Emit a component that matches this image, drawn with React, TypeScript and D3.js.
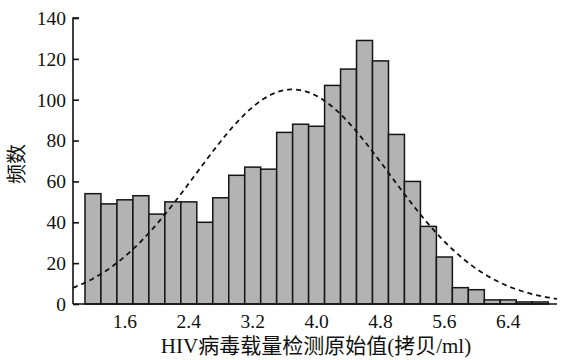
import React, { useEffect, useRef } from "react";
import * as d3 from "d3";

// histogram counts, bins of 0.2 starting at 1.1
const binStart = 1.1;
const binWidth = 0.2;
const counts = [
  54, 49, 51, 53, 44, 50, 50, 40, 52, 63, 67, 66, 84, 88, 87, 107, 115, 129, 119,
  83, 60, 38, 23, 8, 7, 2, 2, 1, 1,
];
const xTicks = [1.6, 2.4, 3.2, 4.0, 4.8, 5.6, 6.4];
const yTicks = [0, 20, 40, 60, 80, 100, 120, 140];
// fitted normal curve
const curveMean = 3.7;
const curveSd = 1.21;

const W = 561;
const H = 360;
const FONT = "'Liberation Serif', 'Times New Roman', 'Noto Sans CJK SC', serif";

export default function App() {
  const svgRef = useRef<SVGSVGElement>(null);

  useEffect(() => {
    const svg = d3.select(svgRef.current);
    svg.selectAll("*").remove();

    const x = d3.scaleLinear().domain([0.95, 7.01]).range([73, 557]);
    const y = d3.scaleLinear().domain([0, 140]).range([304, 18]);

    const bins = counts.map((c, i) => ({
      x0: binStart + i * binWidth,
      x1: binStart + (i + 1) * binWidth,
      c,
    }));

    // bars
    svg
      .append("g")
      .selectAll("rect")
      .data(bins)
      .join("rect")
      .attr("x", (d) => x(d.x0))
      .attr("width", (d) => x(d.x1) - x(d.x0))
      .attr("y", (d) => y(d.c))
      .attr("height", (d) => y(0) - y(d.c))
      .attr("fill", "#b3b3b3")
      .attr("stroke", "#151515")
      .attr("stroke-width", 1.5);

    // normal curve
    const total = d3.sum(counts);
    const dens = (v: number) =>
      ((total * binWidth) / (curveSd * Math.sqrt(2 * Math.PI))) *
      Math.exp(-((v - curveMean) ** 2) / (2 * curveSd * curveSd));
    const [d0, d1] = x.domain();
    const pts = d3.range(0, 201).map((i) => d0 + ((d1 - d0) * i) / 200);
    const line = d3
      .line<number>()
      .x((v) => x(v))
      .y((v) => y(dens(v)))
      .curve(d3.curveBasis);
    svg
      .append("path")
      .attr("d", line(pts))
      .attr("fill", "none")
      .attr("stroke", "#111")
      .attr("stroke-width", 1.8)
      .attr("stroke-dasharray", "5,4");

    // y axis, ticks pointing inward
    const yAxis = d3
      .axisRight(y)
      .tickValues(yTicks)
      .tickSize(6)
      .tickFormat(() => "");
    const gy = svg.append("g").attr("transform", "translate(73,0)").call(yAxis);
    gy.select(".domain").attr("stroke", "#111").attr("stroke-width", 1.6).attr("d", `M6,${y(140)}H0V${y(0)}`);
    gy.selectAll(".tick line").attr("stroke", "#111").attr("stroke-width", 1.6);

    svg
      .append("g")
      .selectAll("text")
      .data(yTicks)
      .join("text")
      .attr("x", 66)
      .attr("y", (d) => y(d))
      .attr("dy", "0.35em")
      .attr("text-anchor", "end")
      .attr("font-family", FONT)
      .attr("font-size", 19.5)
      .attr("fill", "#111")
      .text((d) => d);

    // x axis line and labels
    svg
      .append("line")
      .attr("x1", x.range()[0])
      .attr("x2", x.range()[1])
      .attr("y1", y(0))
      .attr("y2", y(0))
      .attr("stroke", "#111")
      .attr("stroke-width", 1.6);

    svg
      .append("g")
      .selectAll("text")
      .data(xTicks)
      .join("text")
      .attr("x", (d) => x(d))
      .attr("y", 328)
      .attr("text-anchor", "middle")
      .attr("font-family", FONT)
      .attr("font-size", 19.5)
      .attr("fill", "#111")
      .text((d) => d.toFixed(1));

    svg
      .append("text")
      .attr("x", 316)
      .attr("y", 353)
      .attr("text-anchor", "middle")
      .attr("font-family", FONT)
      .attr("font-size", 21)
      .attr("fill", "#111")
      .text("HIV病毒载量检测原始值(拷贝/ml)");

    svg
      .append("text")
      .attr("transform", "translate(24,164) rotate(-90)")
      .attr("text-anchor", "middle")
      .attr("font-family", FONT)
      .attr("font-size", 20)
      .attr("fill", "#111")
      .text("频数");
  }, []);

  return (
    <svg
      ref={svgRef}
      width={W}
      height={H}
      style={{ position: "fixed", left: 0, top: 0, background: "#fff" }}
    />
  );
}
